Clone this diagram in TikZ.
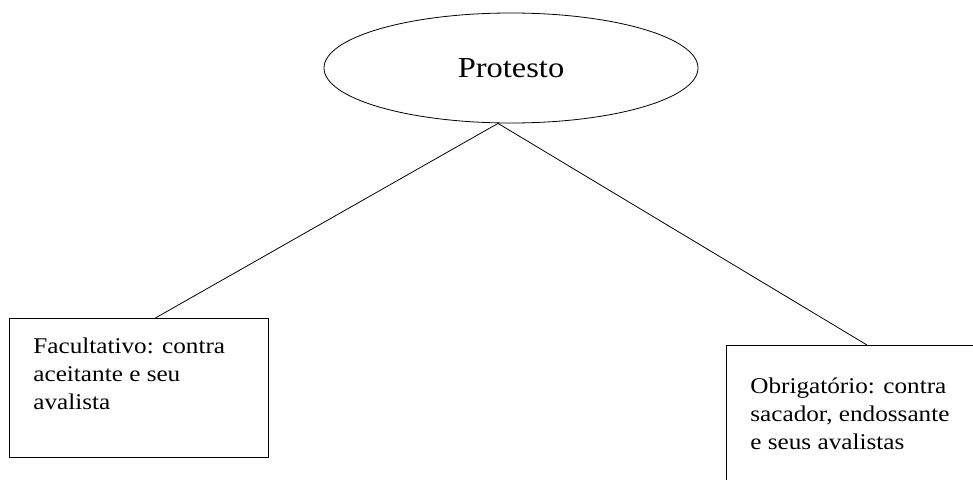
\documentclass[tikz,border=0pt]{standalone}
\usepackage{fontspec}
\setmainfont{Liberation Serif}[FakeStretch=1.12]
\usetikzlibrary{shapes.geometric, calc}
\tikzset{
  bubble/.style = {ellipse, draw, line width=0.8pt, minimum width=374pt, minimum height=110pt, inner sep=0pt, font=\fontsize{29}{34}\selectfont},
  casebox/.style = {draw, line width=0.8pt, anchor=north west, inner xsep=24pt, font=\fontsize{22.5}{28}\selectfont},
  branch/.style = {line width=0.8pt}
}

\begin{document}
\begin{tikzpicture}[x=1pt, y=-1pt]
\useasboundingbox (0, 0) rectangle (973, 479);
\node[bubble] (pro) at (511, 68) {Protesto};
\node[casebox, inner ysep=19pt] (fac) at (9, 318) {\parbox[t][101pt][t]{211pt}{Facultativo: contra\\ aceitante e seu\\ avalista}};
\node[casebox, inner ysep=32pt] (obr) at (726, 345) {\parbox[t][200pt][t]{300pt}{Obrigatório: contra\\ sacador, endossante\\ e seus avalistas}};
\coordinate (apex) at ($(pro.south)+(-13, 0)$);
\draw[branch] (apex) -- ($(fac.north)+(16.5, 0)$);
\draw[branch] (apex) -- ($(obr.north west)+(141, 0)$);
\end{tikzpicture}
\end{document}
